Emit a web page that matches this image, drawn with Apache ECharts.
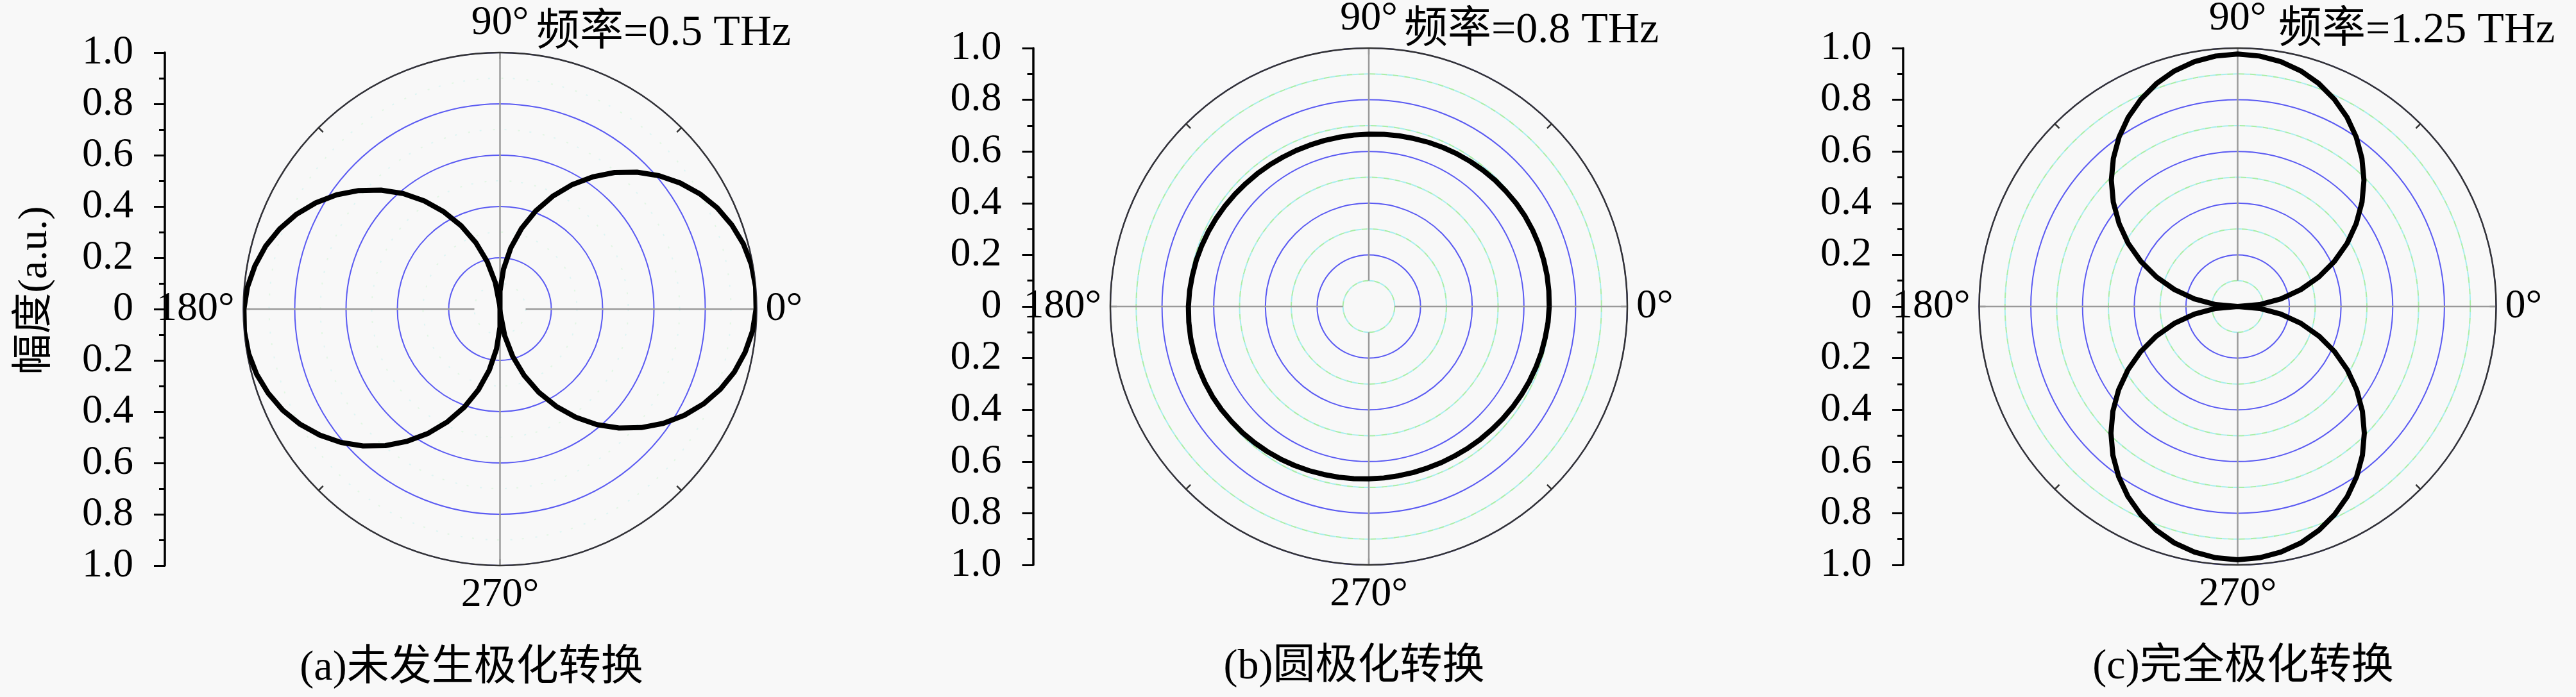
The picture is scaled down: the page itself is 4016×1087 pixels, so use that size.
<!DOCTYPE html>
<html><head><meta charset="utf-8">
<script src="https://cdn.jsdelivr.net/npm/echarts@6/dist/echarts.min.js"></script>
<style>html,body{margin:0;padding:0;background:#f8f8f8}#c{width:4016px;height:1087px}</style>
</head><body><div id="c"></div>
<script>
// ---------- data ----------
const yTickLabels = ['1.0','0.8','0.6','0.4','0.2','0','0.2','0.4','0.6','0.8','1.0'];
const angleLabels = ['0°','90°','180°','270°'];
const yName = '幅度(a.u.)';
const freqLabels = ['频率=0.5 THz','频率=0.8 THz','频率=1.25 THz'];
const captions = ['(a)未发生极化转换','(b)圆极化转换','(c)完全极化转换'];

// (a) 0.5 THz : two lobes along 0°/180°
const angleA = [0,5,10,15,20,25,30,35,40,45,50,55,60,65,70,75,80,85,90,94,95,100,105,110,115,120,125,130,135,140,145,150,155,160,165,170,175,180,185,190,195,200,205,210,215,220,225,230,235,240,245,250,255,260,265,270,274,275,280,285,290,295,300,305,310,315,320,325,330,335,340,345,350,355,360];
const rA = [0.998,1.000,0.995,0.982,0.961,0.934,0.899,0.857,0.809,0.755,0.695,0.629,0.559,0.485,0.407,0.326,0.242,0.156,0.070,
  0,
  0.017,0.105,0.191,0.276,0.358,0.438,0.515,0.588,0.656,0.719,0.777,0.829,0.875,0.914,0.946,0.970,0.988,0.998,
  1.000,0.995,0.982,0.961,0.934,0.899,0.857,0.809,0.755,0.695,0.629,0.559,0.485,0.407,0.326,0.242,0.156,0.070,
  0,
  0.017,0.105,0.191,0.276,0.358,0.438,0.515,0.588,0.656,0.719,0.777,0.829,0.875,0.914,0.946,0.970,0.988,0.998];
// (b) 0.8 THz and (c) 1.25 THz share the same angle samples
const angle5 = [0,5,10,15,20,25,30,35,40,45,50,55,60,65,70,75,80,85,90,95,100,105,110,115,120,125,130,135,140,145,150,155,160,165,170,175,180,185,190,195,200,205,210,215,220,225,230,235,240,245,250,255,260,265,270,275,280,285,290,295,300,305,310,315,320,325,330,335,340,345,350,355,360];
const rB = [0.698,0.699,0.700,0.700,0.700,0.699,0.698,0.696,0.693,0.691,0.688,0.685,0.682,0.679,0.676,0.673,0.671,0.669,0.667,0.666,0.665,0.665,0.665,0.666,0.667,0.669,0.671,0.673,0.676,0.679,0.682,0.685,0.688,0.691,0.693,0.696,0.698,
  0.699,0.700,0.700,0.700,0.699,0.698,0.696,0.693,0.691,0.688,0.685,0.682,0.679,0.676,0.673,0.671,0.669,0.667,0.666,0.665,0.665,0.665,0.666,0.667,0.669,0.671,0.673,0.676,0.679,0.682,0.685,0.688,0.691,0.693,0.696,0.698];
const rC = [0,0.085,0.170,0.253,0.334,0.413,0.489,0.560,0.628,0.691,0.748,0.800,0.846,0.885,0.918,0.944,0.962,0.973,0.977,0.973,0.962,0.944,0.918,0.885,0.846,0.800,0.748,0.691,0.628,0.560,0.489,0.413,0.334,0.253,0.170,0.085,0,
  0.085,0.170,0.254,0.335,0.414,0.490,0.562,0.630,0.693,0.751,0.803,0.849,0.888,0.921,0.947,0.965,0.976,0.980,0.976,0.965,0.947,0.921,0.888,0.849,0.803,0.751,0.693,0.630,0.562,0.490,0.414,0.335,0.254,0.170,0.085,0];

// ---------- layout ----------
const layout = [
  {cx:779.5, cy:482, R:400, axisX:257, freqX:836, freqY:52, capX:735, capY:1043, faint:true},
  {cx:2134, cy:478, R:403, axisX:1610.5, freqX:2189, freqY:48, capX:2111, capY:1041, faint:false},
  {cx:3488.5, cy:478, R:403, axisX:2967, freqX:3552, freqY:48, capX:3497, capY:1041, faint:false}
];
const curves = [[angleA, rA],[angle5, rB],[angle5, rC]];
const SERIF = "'Liberation Serif','Noto Sans CJK SC',serif";
const FS = 64, FS_T = 66, FS_F = 68;
const BLUE = '#5a5af2', GREEN = '#a8eea8', CYAN = '#a8eeee';

const option = {
  backgroundColor:'#f8f8f8', animation:false,
  polar:[], radiusAxis:[], angleAxis:[], grid:[], xAxis:[], yAxis:[], series:[],
  graphic:{elements:[]}
};

layout.forEach((L, i) => {
  const p0 = 3*i, p1 = 3*i+1, p2 = 3*i+2;
  option.polar.push({center:[L.cx, L.cy], radius:[0, L.R]});
  option.polar.push({center:[L.cx, L.cy], radius:[0, L.R]});
  option.polar.push({center:[L.cx, L.cy], radius:[0.1*L.R, L.R]});
  const minorA = L.faint ? {color:'#dff5f3', width:2, type:[3,36]} : {color:GREEN, width:2, type:[9,9]};
  const minorB = L.faint ? {color:'#e2f6e4', width:2, type:[3,36], dashOffset:18} : {color:CYAN, width:2, type:[9,9], dashOffset:9};
  option.radiusAxis.push({polarIndex:p0, type:'value', min:0, max:1, interval:0.2, z:0,
    axisLine:{show:false}, axisTick:{show:false}, axisLabel:{show:false},
    splitLine:{show:true, lineStyle:{color:BLUE, width:2}},
    minorTick:{show:false, splitNumber:2},
    minorSplitLine:{show:true, lineStyle:minorA}});
  option.radiusAxis.push({polarIndex:p1, type:'value', min:0, max:1, interval:0.2, z:0,
    axisLine:{show:false}, axisTick:{show:false}, axisLabel:{show:false},
    splitLine:{show:false},
    minorTick:{show:false, splitNumber:2},
    minorSplitLine:{show:true, lineStyle:minorB}});
  option.radiusAxis.push({polarIndex:p2, type:'value', min:0, max:1, show:false});
  option.angleAxis.push({polarIndex:p0, type:'value', min:0, max:360, startAngle:0, clockwise:false, show:false});
  option.angleAxis.push({polarIndex:p1, type:'value', min:0, max:360, interval:90, startAngle:0, clockwise:false, z:2,
    axisLine:{show:true, lineStyle:{color:'#333', width:2.5}},
    axisTick:{show:true, inside:true, length:10, lineStyle:{color:'#9a9a9a', width:2.5}},
    minorTick:{show:true, splitNumber:2, length:10, lineStyle:{color:'#333', width:2.5}},
    splitLine:{show:false},
    axisLabel:{show:true, margin:14, fontSize:FS, fontFamily:SERIF, color:'#000',
      formatter:v => (v < 360 && angleLabels[Math.round(v/90)]) ? angleLabels[Math.round(v/90)] : ''}});
  option.angleAxis.push({polarIndex:p2, type:'value', min:0, max:360, interval:90, startAngle:0, clockwise:false, z:1,
    axisLine:{show:false}, axisTick:{show:false}, axisLabel:{show:false},
    splitLine:{show:true, lineStyle:{color:'#9a9a9a', width:2.5}}});

  option.grid.push({left:L.axisX, top:L.cy - L.R, width:20, height:2*L.R});
  option.xAxis.push({gridIndex:i, type:'value', show:false});
  const y = {gridIndex:i, type:'value', min:-1, max:1, interval:0.2, position:'left',
    axisLine:{show:true, lineStyle:{color:'#000', width:3.5}},
    axisTick:{show:true, inside:false, length:17, lineStyle:{color:'#000', width:3}},
    minorTick:{show:true, splitNumber:2, length:9, lineStyle:{color:'#000', width:3}},
    splitLine:{show:false},
    axisLabel:{margin:49, fontSize:FS, fontFamily:SERIF, color:'#000',
      formatter:v => yTickLabels[Math.round((1 - v)/0.2)]}};
  if (i === 0) {
    Object.assign(y, {name:yName, nameLocation:'middle', nameRotate:90, nameGap:170,
      nameTextStyle:{fontSize:FS, fontFamily:SERIF, color:'#000', padding:[0,0,0,58]}});
  }
  option.yAxis.push(y);

  const [ang, rr] = curves[i];
  option.series.push({type:'line', coordinateSystem:'polar', polarIndex:p0, z:5, silent:true,
    showSymbol:false, smooth:false, lineStyle:{color:'#000', width:8, join:'round'},
    data: rr.map((r, j) => [r, ang[j]])});

  option.graphic.elements.push({type:'text', x:L.freqX, y:L.freqY, silent:true,
    style:{text:freqLabels[i], font:FS_F+'px '+SERIF, fill:'#000', align:'left', verticalAlign:'middle'}});
  option.graphic.elements.push({type:'text', x:L.capX, y:L.capY, silent:true,
    style:{text:captions[i], font:FS_T+'px '+SERIF, fill:'#000', align:'center', verticalAlign:'middle'}});
});

const chart = echarts.init(document.getElementById('c'), null, {renderer:'canvas'});
chart.setOption(option);
</script></body></html>
